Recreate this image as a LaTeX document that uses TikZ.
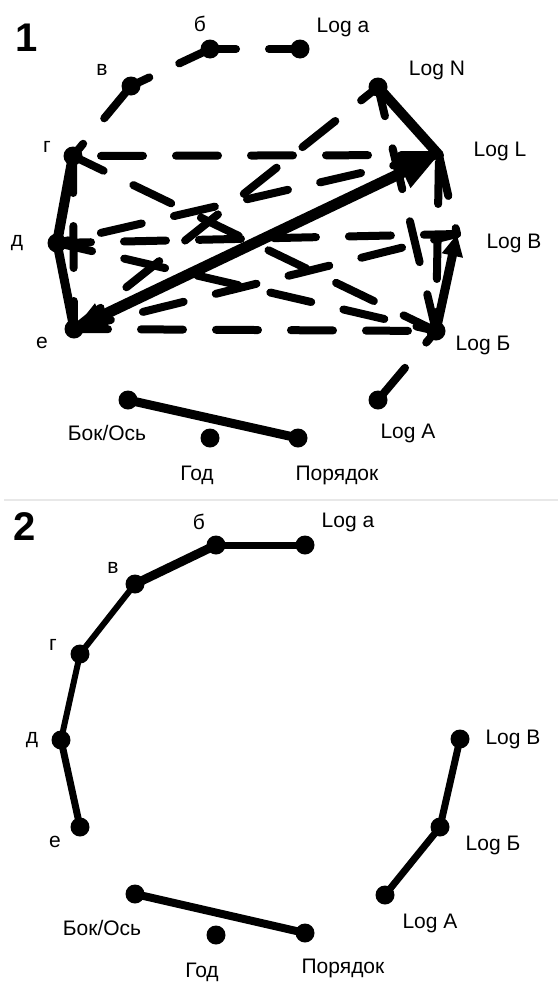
\documentclass[tikz,border=0pt]{standalone}
\usepackage{fontspec}
\setmainfont{Liberation Sans}
\usetikzlibrary{arrows.meta,backgrounds}
\begin{document}
\begin{tikzpicture}[x=1pt,y=-1pt,
  dot/.style={circle,fill=black,inner sep=0pt,minimum size=19pt},
  lbl/.style={font=\fontsize{21}{24}\selectfont,text=black,inner sep=0pt},
  num/.style={font=\fontsize{40}{44}\selectfont\bfseries,inner sep=0pt},
  dsh/.style={line width=8pt,line cap=round,dash pattern=on 42pt off 33pt},
  sol/.style={line width=#1,line cap=round},
  sol/.default=8pt]
\useasboundingbox (0,0) rectangle (558,983);
% ---------- panel 1 nodes
\node[dot] (b1) at (210,49) {};
\node[dot] (La1) at (300,49) {};
\node[dot] (v1) at (131,86) {};
\node[dot] (LN1) at (378,87) {};
\node[dot] (g1) at (73,156) {};
\coordinate (LL1) at (439,155);
\node[dot] (d1) at (57,243) {};
\coordinate (LB1) at (457,234);
\node[dot] (e1) at (74,329) {};
\node[dot] (LBb1) at (436,331) {};
\node[dot] (LA1) at (378,400) {};
\node[dot] (BO1) at (128,400) {};
\node[dot] (God1) at (210,438) {};
\node[dot] (Por1) at (298,438) {};
% ---------- panel 1 labels
\node[num] (n1) at (27,38) {1};
\node[lbl] (tb1) at (200,24) {б};
\node[lbl] (tLa1) at (343,27) {Log a};
\node[lbl] (tv1) at (102,70) {в};
\node[lbl] (tLN1) at (437,70) {Log N};
\node[lbl] (tg1) at (47,147) {г};
\node[lbl] (tLL1) at (500,151) {Log L};
\node[lbl] (td1) at (17,243) {д};
\node[lbl] (tLB1) at (514,243) {Log B};
\node[lbl] (te1) at (42,343) {е};
\node[lbl] (tLBb1) at (483,345) {Log Б};
\node[lbl] (tLA1) at (408,433) {Log A};
\node[lbl] (tBO1) at (107,433) {Бок/Ось};
\node[lbl] (tGod1) at (197,475) {Год};
\node[lbl] (tPor1) at (337,475) {Порядок};
% ---------- panel 2 nodes
\node[dot] (b2) at (216,545) {};
\node[dot] (La2) at (305,545) {};
\node[dot] (v2) at (135,584) {};
\node[dot] (g2) at (80,654) {};
\node[dot] (d2) at (61,740) {};
\node[dot] (e2) at (80,827) {};
\node[dot] (LB2) at (460,739) {};
\node[dot] (LBb2) at (440,827) {};
\node[dot] (LA2) at (385,895) {};
\node[dot] (BO2) at (135,894) {};
\node[dot] (God2) at (216,935) {};
\node[dot] (Por2) at (305,933) {};
% ---------- panel 2 labels
\node[num] (n2) at (25,527) {2};
\node[lbl] (tb2) at (199,522) {б};
\node[lbl] (tLa2) at (348,522) {Log a};
\node[lbl] (tv2) at (113,568) {в};
\node[lbl] (tg2) at (53,645) {г};
\node[lbl] (td2) at (32,740) {д};
\node[lbl] (te2) at (55,842) {е};
\node[lbl] (tLB2) at (513,739) {Log B};
\node[lbl] (tLBb2) at (493,845) {Log Б};
\node[lbl] (tLA2) at (430,923) {Log A};
\node[lbl] (tBO2) at (102,928) {Бок/Ось};
\node[lbl] (tGod2) at (202,972) {Год};
\node[lbl] (tPor2) at (343,968) {Порядок};
% ---------- connectors
\begin{pgfonlayer}{background}
\fill[white] (0,0) rectangle (558,983);
\draw[gray!18,line width=2pt] (4,500) -- (558,500);
% panel 1 dashed
\draw[dsh,dash phase=16pt] (b1.center) -- (La1.center);
\draw[dsh,dash phase=8pt] (b1.center) -- (v1.center);
\draw[dsh] (v1.center) -- (g1.center);
\draw[dsh,dash phase=47pt] (g1.center) -- (LL1);
\draw[dsh,dash phase=8pt] (g1.center) -- (LBb1.center);
\draw[dsh,dash phase=5pt] (g1.center) -- (e1.center);
\draw[dsh,dash phase=30pt] (d1.center) -- (LL1);
\draw[dsh,dash phase=8pt] (d1.center) -- (LB1);
\draw[dsh,dash phase=6pt] (d1.center) -- (LBb1.center);
\draw[dsh,dash phase=8pt] (e1.center) -- (LN1.center);
\draw[dsh,dash phase=4pt] (e1.center) -- (LB1);
\draw[dsh,dash phase=8pt] (e1.center) -- (LBb1.center);
\draw[dsh,dash phase=12pt] (LN1.center) -- (LBb1.center);
\draw[dsh,dash phase=68pt] (LL1) -- (LBb1.center);
\draw[dsh] (LL1) -- (LB1);
\draw[dsh] (LA1.center) -- (LBb1.center);
% panel 1 solid
\draw[sol=10pt] (g1.center) -- (d1.center);
\draw[sol=9pt] (d1.center) -- (e1.center);
\draw[sol=10pt] (LN1.center) -- (LL1);
\draw[line width=11pt,{Triangle[length=30pt,width=26pt]}-{Triangle[length=40pt,width=32pt]}] (e1.center) -- (LL1);
\draw[line width=9pt,-{Triangle[length=22pt,width=20pt]}] (LBb1.center) -- (LB1);
\draw[sol=9pt] (BO1.center) -- (Por1.center);
% panel 2 solid
\draw[sol=7pt] (b2.center) -- (La2.center);
\draw[sol=9pt] (b2.center) -- (v2.center);
\draw[sol=6pt] (v2.center) -- (g2.center);
\draw[sol=6pt] (g2.center) -- (d2.center);
\draw[sol=7pt] (d2.center) -- (e2.center);
\draw[sol=8pt] (BO2.center) -- (Por2.center);
\draw[sol=7pt] (LB2.center) -- (LBb2.center);
\draw[sol=7pt] (LBb2.center) -- (LA2.center);
\end{pgfonlayer}
\end{tikzpicture}
\end{document}
